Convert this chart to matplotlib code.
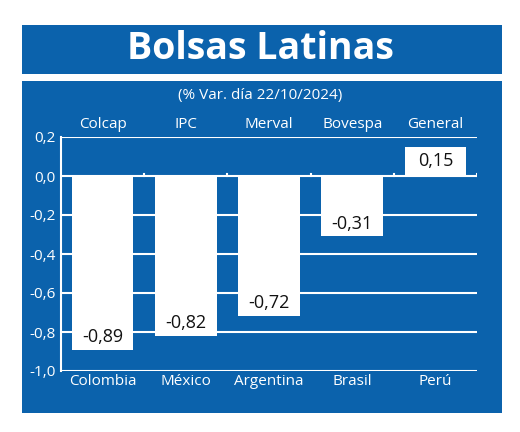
import matplotlib.pyplot as plt
from matplotlib.patches import Rectangle

indices = ['Colcap', 'IPC', 'Merval', 'Bovespa', 'General']
countries = ['Colombia', 'México', 'Argentina', 'Brasil', 'Perú']
values = [-0.89, -0.82, -0.72, -0.31, 0.15]
labels = ['-0,89', '-0,82', '-0,72', '-0,31', '0,15']
yticks = [0.2, 0.0, -0.2, -0.4, -0.6, -0.8, -1.0]
ytick_labels = ['0,2', '0,0', '-0,2', '-0,4', '-0,6', '-0,8', '-1,0']

BLUE = '#0b62ac'
plt.rcParams['font.family'] = ['Open Sans', 'DejaVu Sans']

fig = plt.figure(figsize=(5.2, 4.32), dpi=100)
fig.patch.set_facecolor('white')
# title box and chart box, behind the axes
fig.patches.append(Rectangle((22/520, 1-74/432), 480/520, 49/432, transform=fig.transFigure,
                             facecolor=BLUE, edgecolor='none', zorder=-5))
fig.patches.append(Rectangle((22/520, 1-413/432), 480/520, 332/432, transform=fig.transFigure,
                             facecolor=BLUE, edgecolor='none', zorder=-5))
fig.text(0.5, 1-49/432, 'Bolsas Latinas', color='white', fontsize=27, fontweight='bold',
         ha='center', va='center')
fig.text(0.5, 1-96/432, '(% Var. día 22/10/2024)', color='white', fontsize=11, ha='center', va='center')

ax = fig.add_axes([61/520, 1-371/432, 416/520, 234/432])
ax.set_zorder(5)
ax.set_facecolor('none')
x = list(range(len(values)))
for y in yticks:
    ax.axhline(y, color='white', lw=1.5, zorder=1)
ax.bar(x, values, width=0.74, color='white', zorder=2)
for xi, v, lab in zip(x, values, labels):
    if v < 0:
        ax.text(xi, v + 0.02, lab, ha='center', va='bottom', fontsize=13, color='#111111', zorder=3)
    else:
        ax.text(xi, v / 2, lab, ha='center', va='center', fontsize=13, color='#111111', zorder=3)
for xi in [0.5, 1.5, 2.5, 3.5, 4.5]:
    ax.plot([xi, xi], [0, 0.012], color='white', lw=1.5, zorder=1)

ax.set_xlim(-0.5, 4.5)
ax.set_ylim(-1.0, 0.2)
ax.set_yticks(yticks)
ax.set_yticklabels(ytick_labels, color='white', fontsize=11)
ax.tick_params(axis='y', length=0, pad=4)
ax.set_xticks(x)
ax.set_xticklabels(countries, color='white', fontsize=11)
ax.tick_params(axis='x', length=0, pad=2)
for xi, name in zip(x, indices):
    ax.text(xi, 0.225, name, ha='center', va='bottom', color='white', fontsize=11)
for s in ['top', 'right', 'bottom']:
    ax.spines[s].set_visible(False)
ax.spines['left'].set_color('white')
ax.spines['left'].set_linewidth(1.5)

fig.savefig('out.png', dpi=100)
